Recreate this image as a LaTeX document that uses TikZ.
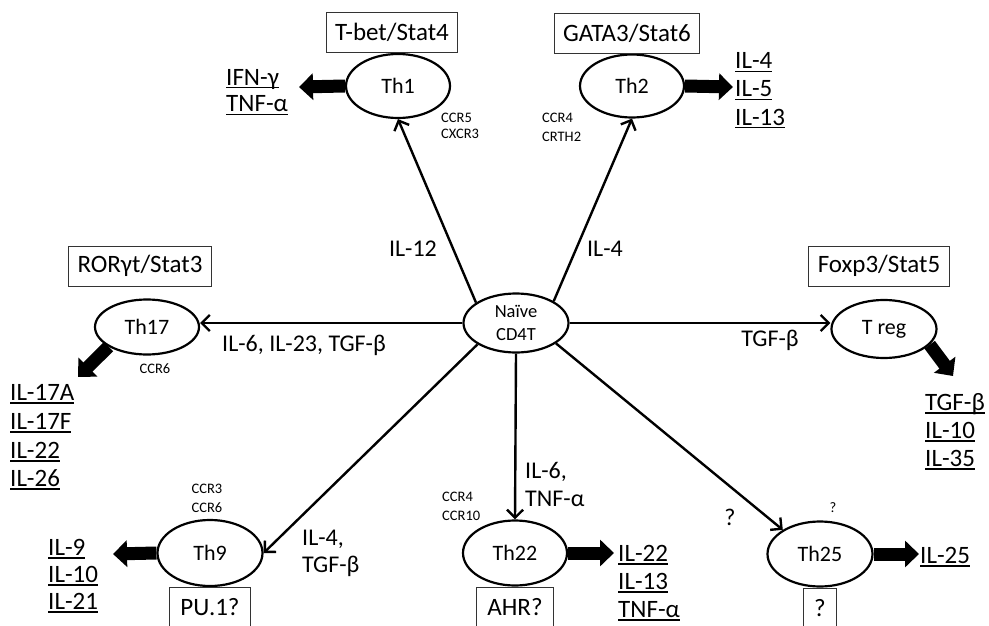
\documentclass[tikz,border=0pt]{standalone}
\usepackage{fontspec}
\setmainfont{Carlito}
\usetikzlibrary{arrows.meta,shapes.geometric}

% underlined cytokine name with a heavier rule than \underline
\newcommand{\cyt}[1]{\setbox0\hbox{#1}\rlap{\rule[-3.5pt]{\wd0}{1.3pt}}\box0}

\tikzset{
  cell/.style={ellipse, draw, line width=2.2pt, inner sep=0pt,
    minimum width=104pt, minimum height=64pt, font=\fontsize{22}{24}\selectfont},
  tfbox/.style={draw=black!80, line width=0.9pt, minimum height=40pt,
    inner xsep=9pt, inner ysep=0pt, font=\fontsize{25}{28}\selectfont},
  qbox/.style={tfbox, inner xsep=11pt, anchor=north},
  route/.style={line width=2.4pt, -{Straight Barb[length=8pt, width=16pt]}},
  secrete/.style={line width=13pt, -{Triangle[length=14pt, width=26pt]}},
  lab/.style={font=\fontsize{24}{28}\selectfont, inner sep=0pt},
  labl/.style={lab, anchor=base west},
  cyto/.style={font=\fontsize{25}{28}\selectfont, anchor=base west, inner sep=0pt},
  recep/.style={font=\fontsize{14.5}{16}\selectfont, anchor=base west, inner sep=0pt},
  recepc/.style={font=\fontsize{14.5}{16}\selectfont, anchor=base, inner sep=0pt},
}

\begin{document}
\begin{tikzpicture}[x=1pt, y=-1pt]
\useasboundingbox (0,0) rectangle (989,626);
\clip (0,0) rectangle (989,626);

% naive cell in the middle
\node[cell, minimum width=105pt, minimum height=59pt, align=center,
      font=\fontsize{18.5}{23}\selectfont] (N) at (516,323) {Naïve\\CD4T};

% effector subsets
\node[cell] (Th1) at (398,86) {Th1};
\node[cell, minimum height=63pt] (Th2) at (632,86) {Th2};
\node[cell, minimum height=55pt] (Th17) at (147,327) {Th17};
\node[cell, minimum width=105pt, minimum height=58pt] (Treg) at (884,329) {T reg};
\node[cell, minimum width=105pt, minimum height=66pt] (Th9) at (210,553) {Th9};
\node[cell, minimum height=65pt] (Th22) at (515,553) {Th22};
\node[cell, minimum width=105pt, minimum height=65pt] (Th25) at (820,554) {Th25};

% transcription factors
\node[tfbox] (tf1) at (392,32) {T-bet/Stat4};
\node[tfbox] (tf2) at (627,33) {GATA3/Stat6};
\node[tfbox] (tf17) at (140,266) {RORγt/Stat3};
\node[tfbox] (tfT) at (879,266) {Foxp3/Stat5};
\node[qbox] (tf9) at (Th9.south) {PU.1?};
\node[qbox] (tf22) at (Th22.south) {AHR?};
\node[qbox] (tf25) at (Th25.south) {?};

% differentiation routes
\draw[route] (N.153) -- (Th1.south);
\draw[route] (N.30) -- (Th2.south);
\draw[route] (N.west) -- (N.west -| Th17.east);
\draw[route] (N.east) -- (N.east -| Treg.west);
\draw[route] (N.209) -- (Th9.east);
\draw[route] (N.south) -- (Th22.north);
\draw[route] (N.333) -- (Th25.147);

% inducing cytokines
\node[lab] (i1) at (413,249) {IL-12};
\node[lab] (i2) at (605,249) {IL-4};
\node[lab] (i17) at (304,345) {IL-6, IL-23, TGF-β};
\node[lab] (iT) at (770,340) {TGF-β};
\node[labl] (i9a) at (302,545) {IL-4,};
\node[labl] (i9b) at (302,572) {TGF-β};
\node[labl] (i22a) at (525,478) {IL-6,};
\node[labl] (i22b) at (525,506) {TNF-α};
\node[lab] (i25) at (730,517) {?};

% secreted cytokines
\coordinate (o1) at (299,87);
\coordinate (o2) at (733,87);
\coordinate (o17) at (78,377);
\coordinate (oT) at (953,376);
\coordinate (o9) at (113,554);
\coordinate (o22) at (614,553);
\coordinate (o25) at (919,554);
\draw[secrete] (Th1.west) -- (o1);
\draw[secrete] (Th2.east) -- (o2);
\draw[secrete] (Th17.207) -- (o17);
\draw[secrete] (Treg.341) -- (oT);
\draw[secrete] (Th9.west) -- (o9);
\draw[secrete] (Th22.east) -- (o22);
\draw[secrete] (Th25.east) -- (o25);

\node[cyto] (c1a) at (226,85) {\cyt{IFN-γ}};
\node[cyto] (c1b) at (226,112) {\cyt{TNF-α}};

\node[cyto] (c2a) at (735,69) {\cyt{IL-4}};
\node[cyto] (c2b) at (735,97) {\cyt{IL-5}};
\node[cyto] (c2c) at (735,125) {\cyt{IL-13}};

\node[cyto] (c17a) at (10,400) {\cyt{IL-17A}};
\node[cyto] (c17b) at (10,429) {\cyt{IL-17F}};
\node[cyto] (c17c) at (10,458) {\cyt{IL-22}};
\node[cyto] (c17d) at (10,486) {\cyt{IL-26}};

\node[cyto] (cTa) at (925,410) {\cyt{TGF-β}};
\node[cyto] (cTb) at (925,438) {\cyt{IL-10}};
\node[cyto] (cTc) at (925,466) {\cyt{IL-35}};

\node[cyto] (c9a) at (48,555) {\cyt{IL-9}};
\node[cyto] (c9b) at (48,582) {\cyt{IL-10}};
\node[cyto] (c9c) at (48,609) {\cyt{IL-21}};

\node[cyto] (c22a) at (618,561) {\cyt{IL-22}};
\node[cyto] (c22b) at (618,589) {\cyt{IL-13}};
\node[cyto] (c22c) at (618,617) {\cyt{TNF-α}};

\node[cyto] (c25) at (920,563) {\cyt{IL-25}};

% chemokine receptors
\node[recep] (r1a) at (441,123) {CCR5};
\node[recep] (r1b) at (441,139) {CXCR3};
\node[recep] (r2a) at (542,122) {CCR4};
\node[recep] (r2b) at (542,142) {CRTH2};
\node[recepc] (r17) at (155,373) {CCR6};
\node[recepc] (r9a) at (207,493) {CCR3};
\node[recepc] (r9b) at (207,512) {CCR6};
\node[recep] (r22a) at (442,501) {CCR4};
\node[recep] (r22b) at (442,520) {CCR10};
\node[recepc] (r25) at (833,512) {?};
\end{tikzpicture}
\end{document}
